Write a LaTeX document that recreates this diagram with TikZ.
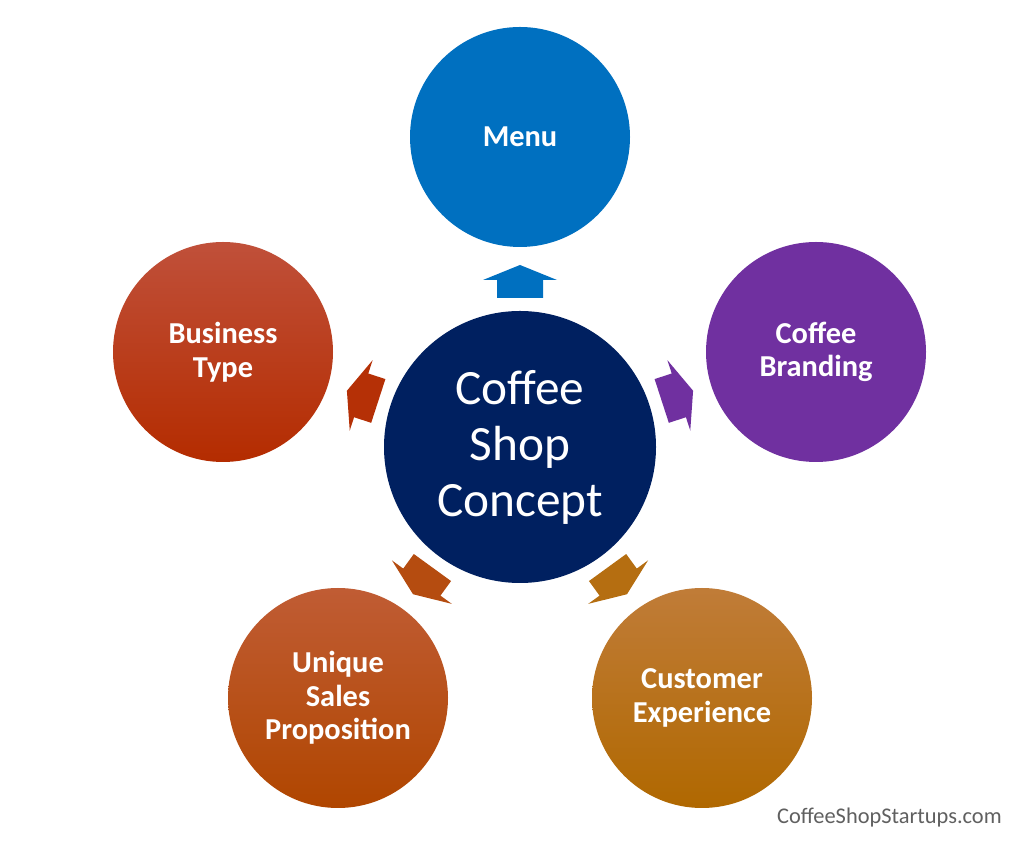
\documentclass[tikz,border=0pt]{standalone}
\usepackage{fontspec}
\setmainfont{Carlito}
\begin{document}
\begin{tikzpicture}[x=0.75pt,y=0.75pt,
  sat/.style={circle,minimum size=165pt,inner sep=0pt,text=white,align=center,
    font=\fontsize{22.8}{25.2}\selectfont\bfseries},
  core/.style={circle,minimum size=204pt,inner sep=0pt,text=white,align=center,fill=navy,
    font=\fontsize{37}{42}\selectfont}]
\definecolor{navy}{HTML}{002060}
\definecolor{menublue}{HTML}{0070C0}
\definecolor{brandpurple}{HTML}{7030A0}
\definecolor{redtop}{HTML}{C0503A}
\definecolor{redbot}{HTML}{B42C00}
\definecolor{usptop}{HTML}{C05C34}
\definecolor{uspbot}{HTML}{B04600}
\definecolor{cetop}{HTML}{C07C38}
\definecolor{cebot}{HTML}{B06800}
\definecolor{wmgray}{HTML}{606060}
\useasboundingbox[fill=white] (0,0) rectangle (1024,845);

\node[core] (core) at (520,398) {Coffee\\Shop\\Concept};
\node[sat,fill=menublue] (menu) at (520,708) {Menu};
\node[sat,fill=brandpurple] (brand) at (816,493) {Coffee\\Branding};
\node[sat,top color=redtop,bottom color=redbot] (biz) at (223,493) {Business\\Type};
\node[sat,top color=usptop,bottom color=uspbot] (usp) at (338,147) {Unique\\Sales\\Proposition};
\node[sat,top color=cetop,bottom color=cebot] (cx) at (702,147) {Customer\\Experience};

\def\blockarrow{(149,-23) -- (167,-23) -- (167,-37) -- (182,0) -- (167,37) -- (167,23) -- (149,23) -- cycle}
\begin{scope}[shift={(core.center)},rotate=90]
  \fill[menublue] \blockarrow;
\end{scope}
\begin{scope}[shift={(core.center)},rotate=18]
  \fill[brandpurple] \blockarrow;
\end{scope}
\begin{scope}[shift={(core.center)},rotate=162]
  \fill[redbot!90!redtop] \blockarrow;
\end{scope}
\begin{scope}[shift={(core.center)},rotate=234]
  \fill[uspbot!70!usptop] \blockarrow;
\end{scope}
\begin{scope}[shift={(core.center)},rotate=306]
  \fill[cebot!70!cetop] \blockarrow;
\end{scope}

\node[anchor=east,text=wmgray,font=\fontsize{16.8}{18}\selectfont,inner sep=0pt] (wm) at (1002,27) {CoffeeShopStartups.com};
\end{tikzpicture}
\end{document}
